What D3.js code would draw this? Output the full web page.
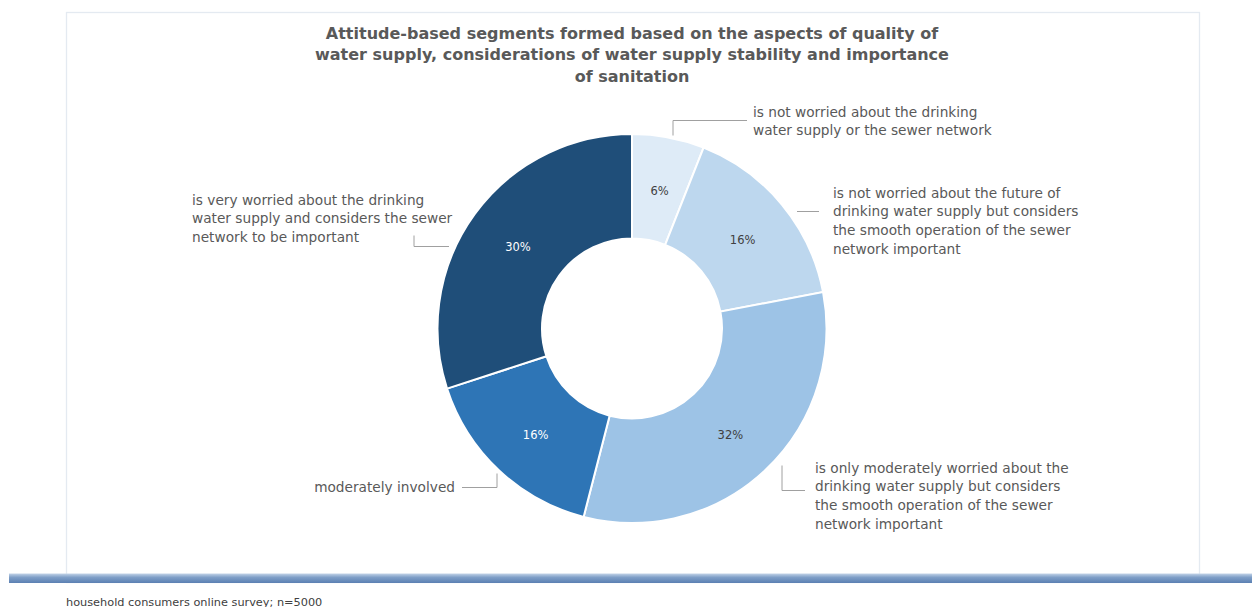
<!DOCTYPE html>
<html>
<head>
<meta charset="utf-8">
<script src="https://cdnjs.cloudflare.com/ajax/libs/d3/7.8.5/d3.min.js"></script>
<style>
  html, body { margin: 0; padding: 0; background: #ffffff; }
  svg { display: block; }
</style>
</head>
<body>
<svg id="chart" width="1252" height="607"></svg>
<script>
// Segment shares (percent), listed clockwise from twelve o'clock
const segments = [
  "is not worried about the drinking water supply or the sewer network",
  "is not worried about the future of drinking water supply but considers the smooth operation of the sewer network important",
  "is only moderately worried about the drinking water supply but considers the smooth operation of the sewer network important",
  "moderately involved",
  "is very worried about the drinking water supply and considers the sewer network to be important"
];
const shares = [6, 16, 32, 16, 30];
const shareLabels = ["6%", "16%", "32%", "16%", "30%"];

// Wrapped callout text for each segment
const calloutLines = [
  ["is not worried about the drinking", "water supply or the sewer network"],
  ["is not worried about the future of", "drinking water supply but considers", "the smooth operation of the sewer", "network important"],
  ["is only moderately worried about the", "drinking water supply but considers", "the smooth operation of the sewer", "network important"],
  ["moderately involved"],
  ["is very worried about the drinking", "water supply and considers the sewer", "network to be important"]
];

const titleLines = [
  "Attitude-based segments formed based on the aspects of quality of",
  "water supply, considerations of water supply stability and importance",
  "of sanitation"
];
const sourceNote = "household consumers online survey; n=5000";

// Drawing
const svg = d3.select("#chart");
const W = 1252, H = 607;

const palette = ["#deebf7", "#bdd7ee", "#9dc3e6", "#2e75b6", "#1f4e79"];
const pctInk = ["#404040", "#404040", "#404040", "#ffffff", "#ffffff"];

// chart frame
svg.append("rect")
  .attr("x", 66.5).attr("y", 12.5)
  .attr("width", 1133).attr("height", 570)
  .attr("fill", "#ffffff")
  .attr("stroke", "#e4eaf1").attr("stroke-width", 1.3);

// title
const title = svg.append("text")
  .attr("text-anchor", "middle")
  .attr("font-family", "'DejaVu Sans', sans-serif")
  .attr("font-weight", "bold")
  .attr("font-size", 16)
  .attr("fill", "#595959");
titleLines.forEach((t, i) => {
  title.append("tspan").attr("x", 632).attr("y", 38.5 + i * 21.5).text(t);
});

// donut
const cx = 632, cy = 328.5;
const outerR = 194.5, innerR = 90;
const pie = d3.pie().sort(null).value(d => d)(shares);
const arc = d3.arc().innerRadius(innerR).outerRadius(outerR);
const labelArc = d3.arc().innerRadius((innerR + outerR) / 2).outerRadius((innerR + outerR) / 2);

const g = svg.append("g").attr("transform", `translate(${cx},${cy})`);
g.selectAll("path.slice")
  .data(pie)
  .join("path")
  .attr("class", "slice")
  .attr("d", arc)
  .attr("fill", (d, i) => palette[i])
  .attr("stroke", "#ffffff")
  .attr("stroke-width", 2);

g.selectAll("text.pct")
  .data(pie)
  .join("text")
  .attr("class", "pct")
  .attr("transform", d => {
    const [x, y] = labelArc.centroid(d);
    return `translate(${x + 1},${y + 2.5})`;
  })
  .attr("text-anchor", "middle")
  .attr("dy", "0.35em")
  .attr("font-family", "'DejaVu Sans', sans-serif")
  .attr("font-size", 11.5)
  .attr("fill", (d, i) => pctInk[i])
  .text((d, i) => shareLabels[i]);

// callouts: text block origin, anchor, and leader polyline (relative to donut centre)
const callouts = [
  { x: 121, y: -212, anchor: "start", leader: [[41, -193], [41, -208], [115, -208]] },
  { x: 201, y: -131, anchor: "start", leader: [[165, -117], [187, -117]] },
  { x: 183, y: 144,  anchor: "start", leader: [[150, 137], [150, 162], [173, 162]] },
  { x: -177, y: 163, anchor: "end",   leader: [[-135, 145], [-135, 159], [-170, 159]] },
  { x: -440, y: -124, anchor: "start", leader: [[-183, -82], [-218, -82], [-218, -93]] }
];

const line = d3.line();
callouts.forEach((c, i) => {
  g.append("path")
    .attr("d", line(c.leader))
    .attr("fill", "none")
    .attr("stroke", "#a0a0a0")
    .attr("stroke-width", 1);
  const t = g.append("text")
    .attr("text-anchor", c.anchor)
    .attr("font-family", "'DejaVu Sans', sans-serif")
    .attr("font-size", 13.7)
    .attr("fill", "#595959");
  calloutLines[i].forEach((s, k) => {
    t.append("tspan").attr("x", c.x).attr("y", c.y + k * 18.7).text(s);
  });
});

// bottom rule
const grad = svg.append("defs").append("linearGradient")
  .attr("id", "rule").attr("x1", 0).attr("y1", 0).attr("x2", 0).attr("y2", 1);
grad.append("stop").attr("offset", "0%").attr("stop-color", "#c3d4e8");
grad.append("stop").attr("offset", "40%").attr("stop-color", "#7f9fc8");
grad.append("stop").attr("offset", "100%").attr("stop-color", "#5b80b2");
svg.append("rect")
  .attr("x", 9).attr("y", 573.5).attr("width", W - 9).attr("height", 9.5)
  .attr("fill", "url(#rule)");

// source note
svg.append("text")
  .attr("x", 66).attr("y", 605.5)
  .attr("font-family", "'DejaVu Sans', sans-serif")
  .attr("font-size", 11.3)
  .attr("fill", "#404040")
  .text(sourceNote);
</script>
</body>
</html>
